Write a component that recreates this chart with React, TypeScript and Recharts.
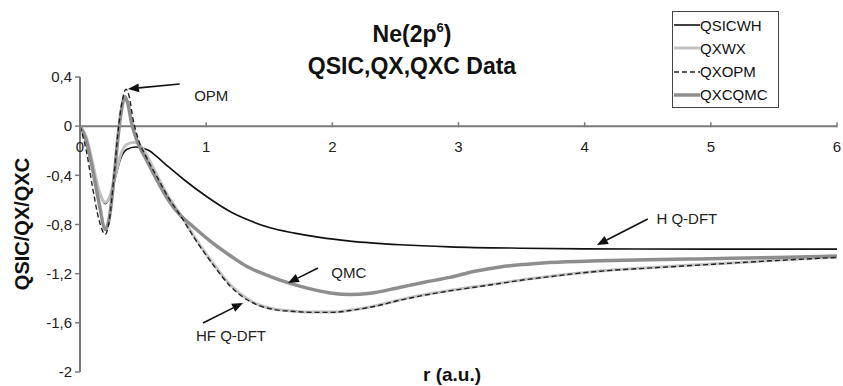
import React from "react";
import { LineChart, Line, XAxis, YAxis, ReferenceLine, ReferenceDot } from "recharts";

// r (a.u.) vs value
const qsicwh = [
  { r: 0, v: 0 }, { r: 0.05, v: -0.1 }, { r: 0.1, v: -0.31 }, { r: 0.15, v: -0.53 }, { r: 0.2, v: -0.63 },
  { r: 0.24, v: -0.57 }, { r: 0.28, v: -0.42 }, { r: 0.32, v: -0.27 }, { r: 0.37, v: -0.19 }, { r: 0.44, v: -0.17 },
  { r: 0.5, v: -0.18 }, { r: 0.55, v: -0.2 }, { r: 0.6, v: -0.24 }, { r: 0.7, v: -0.33 }, { r: 0.83, v: -0.44 },
  { r: 1.0, v: -0.57 }, { r: 1.2, v: -0.7 }, { r: 1.35, v: -0.77 }, { r: 1.5, v: -0.825 }, { r: 1.7, v: -0.87 },
  { r: 1.9, v: -0.905 }, { r: 2.14, v: -0.935 }, { r: 2.54, v: -0.965 }, { r: 2.93, v: -0.982 }, { r: 3.5, v: -0.993 },
  { r: 4.0, v: -0.998 }, { r: 5.0, v: -1.0 }, { r: 6.0, v: -1.0 },
];

const qxwx = [
  { r: 0, v: 0 }, { r: 0.05, v: -0.09 }, { r: 0.1, v: -0.3 }, { r: 0.15, v: -0.52 }, { r: 0.2, v: -0.62 },
  { r: 0.24, v: -0.56 }, { r: 0.28, v: -0.4 }, { r: 0.32, v: -0.24 }, { r: 0.37, v: -0.15 }, { r: 0.43, v: -0.13 },
  { r: 0.48, v: -0.16 }, { r: 0.52, v: -0.22 }, { r: 0.62, v: -0.42 }, { r: 0.7, v: -0.57 }, { r: 0.81, v: -0.74 },
  { r: 0.9, v: -0.89 }, { r: 1.05, v: -1.11 }, { r: 1.19, v: -1.29 }, { r: 1.32, v: -1.4 }, { r: 1.42, v: -1.455 },
  { r: 1.53, v: -1.485 }, { r: 1.7, v: -1.505 }, { r: 1.85, v: -1.512 }, { r: 2.0, v: -1.512 }, { r: 2.14, v: -1.498 },
  { r: 2.34, v: -1.462 }, { r: 2.54, v: -1.412 }, { r: 2.73, v: -1.372 }, { r: 2.93, v: -1.337 }, { r: 3.13, v: -1.307 },
  { r: 3.33, v: -1.277 }, { r: 3.52, v: -1.247 }, { r: 3.72, v: -1.222 }, { r: 3.92, v: -1.198 }, { r: 4.12, v: -1.178 },
  { r: 4.5, v: -1.152 }, { r: 4.91, v: -1.127 }, { r: 5.4, v: -1.098 }, { r: 5.86, v: -1.072 }, { r: 6.0, v: -1.065 },
];

const qxopm = [
  { r: 0, v: 0 }, { r: 0.05, v: -0.2 }, { r: 0.1, v: -0.5 }, { r: 0.15, v: -0.76 }, { r: 0.2, v: -0.88 },
  { r: 0.23, v: -0.78 }, { r: 0.27, v: -0.4 }, { r: 0.3, v: -0.06 }, { r: 0.33, v: 0.18 }, { r: 0.365, v: 0.3 },
  { r: 0.39, v: 0.24 }, { r: 0.42, v: 0.06 }, { r: 0.46, v: -0.1 }, { r: 0.52, v: -0.24 }, { r: 0.62, v: -0.43 },
  { r: 0.7, v: -0.58 }, { r: 0.81, v: -0.75 }, { r: 0.9, v: -0.9 }, { r: 1.05, v: -1.12 }, { r: 1.19, v: -1.3 },
  { r: 1.32, v: -1.41 }, { r: 1.42, v: -1.46 }, { r: 1.53, v: -1.49 }, { r: 1.7, v: -1.508 }, { r: 1.85, v: -1.515 },
  { r: 2.0, v: -1.515 }, { r: 2.14, v: -1.5 }, { r: 2.34, v: -1.465 }, { r: 2.54, v: -1.415 }, { r: 2.73, v: -1.375 },
  { r: 2.93, v: -1.34 }, { r: 3.13, v: -1.31 }, { r: 3.33, v: -1.28 }, { r: 3.52, v: -1.25 }, { r: 3.72, v: -1.225 },
  { r: 3.92, v: -1.2 }, { r: 4.12, v: -1.18 }, { r: 4.5, v: -1.155 }, { r: 4.91, v: -1.13 }, { r: 5.4, v: -1.1 },
  { r: 5.86, v: -1.075 }, { r: 6.0, v: -1.068 },
];

const qxcqmc = [
  { r: 0, v: 0 }, { r: 0.05, v: -0.12 }, { r: 0.09, v: -0.3 }, { r: 0.15, v: -0.62 }, { r: 0.2, v: -0.84 },
  { r: 0.23, v: -0.76 }, { r: 0.27, v: -0.42 }, { r: 0.3, v: -0.1 }, { r: 0.33, v: 0.14 }, { r: 0.355, v: 0.24 },
  { r: 0.38, v: 0.18 }, { r: 0.41, v: 0.02 }, { r: 0.46, v: -0.14 }, { r: 0.52, v: -0.26 }, { r: 0.6, v: -0.42 },
  { r: 0.7, v: -0.6 }, { r: 0.79, v: -0.72 }, { r: 0.9, v: -0.82 }, { r: 1.05, v: -0.95 }, { r: 1.2, v: -1.06 },
  { r: 1.32, v: -1.14 }, { r: 1.45, v: -1.2 }, { r: 1.58, v: -1.25 }, { r: 1.72, v: -1.295 }, { r: 1.85, v: -1.33 },
  { r: 2.0, v: -1.36 }, { r: 2.14, v: -1.37 }, { r: 2.3, v: -1.36 }, { r: 2.54, v: -1.31 }, { r: 2.73, v: -1.27 },
  { r: 2.93, v: -1.23 }, { r: 3.13, v: -1.18 }, { r: 3.33, v: -1.145 }, { r: 3.52, v: -1.125 }, { r: 3.72, v: -1.11 },
  { r: 4.12, v: -1.095 }, { r: 4.5, v: -1.087 }, { r: 4.91, v: -1.08 }, { r: 5.4, v: -1.07 }, { r: 5.86, v: -1.06 },
  { r: 6.0, v: -1.057 },
];

const xTicks = [0, 1, 2, 3, 4, 5, 6];
const yTicks = [-2, -1.6, -1.2, -0.8, -0.4, 0, 0.4];

const annotations = [
  { label: "OPM", from: [0.79, 0.343], to: [0.38, 0.303], text: [1.04, 0.245] },
  { label: "QMC", from: [1.886, -1.154], to: [1.648, -1.276], text: [2.13, -1.19] },
  { label: "HF Q-DFT", from: [0.975, -1.601], to: [1.292, -1.438], text: [1.197, -1.707] },
  { label: "H Q-DFT", from: [4.5, -0.755], to: [4.097, -0.967], text: [4.81, -0.755] },
];

const W = 843;
const H = 386;
const PLOT_LEFT = 80;
const PLOT_RIGHT = 837;
const PLOT_TOP = 77;
const PLOT_BOTTOM = 372;
const Y_MIN = -2;
const Y_MAX = 0.4;
const ZERO_Y = PLOT_TOP + ((PLOT_BOTTOM - PLOT_TOP) * Y_MAX) / (Y_MAX - Y_MIN);
const AXIS = "#7a7a7a";
const FONT = "'Liberation Sans', Arial, sans-serif";

const fmt = (v: number) => String(v).replace(".", ",");

function XTick(props: any) {
  const { x, payload } = props;
  return (
    <g>
      <line x1={x} x2={x} y1={ZERO_Y - 4} y2={ZERO_Y + 1} stroke={AXIS} strokeWidth={1.5} />
      <text x={x} y={ZERO_Y + 26} textAnchor="middle" fontSize={15} fill="#222" fontFamily={FONT}>
        {payload.value}
      </text>
    </g>
  );
}

function Arrow(props: any) {
  const { x1, y1, x2, y2 } = props;
  if ([x1, y1, x2, y2].some((n) => typeof n !== "number")) return null;
  const a = Math.atan2(y2 - y1, x2 - x1);
  const len = 11;
  const hw = 4.5;
  const bx = x2 - len * Math.cos(a);
  const by = y2 - len * Math.sin(a);
  const px = -Math.sin(a) * hw;
  const py = Math.cos(a) * hw;
  return (
    <g>
      <line x1={x1} y1={y1} x2={bx} y2={by} stroke="#111" strokeWidth={1.6} />
      <polygon points={`${x2},${y2} ${bx + px},${by + py} ${bx - px},${by - py}`} fill="#111" />
    </g>
  );
}

const legendItems = [
  { name: "QSICWH", color: "#111", width: 1.6, dash: undefined },
  { name: "QXWX", color: "#c2c2c2", width: 3, dash: undefined },
  { name: "QXOPM", color: "#222", width: 1.4, dash: "5 3" },
  { name: "QXCQMC", color: "#8e8e8e", width: 3.5, dash: undefined },
];

export default function App() {
  return (
    <div style={{ position: "fixed", left: 0, top: 0, width: W, height: H, overflow: "hidden", background: "#fff", fontFamily: FONT }}>
      <LineChart width={W} height={H} margin={{ top: PLOT_TOP, right: W - PLOT_RIGHT, left: 0, bottom: 0 }}>
        <XAxis
          dataKey="r"
          type="number"
          domain={[0, 6]}
          ticks={xTicks}
          interval={0}
          allowDataOverflow
          axisLine={false}
          tickLine={false}
          height={H - PLOT_BOTTOM}
          tick={<XTick />}
        />
        <YAxis
          type="number"
          domain={[Y_MIN, Y_MAX]}
          ticks={yTicks}
          interval={0}
          width={PLOT_LEFT}
          allowDataOverflow
          axisLine={{ stroke: AXIS, strokeWidth: 2 }}
          tickLine={{ stroke: AXIS, strokeWidth: 1.5 }}
          tickSize={5}
          tickMargin={3}
          tick={{ fontSize: 15, fill: "#222", fontFamily: FONT }}
          tickFormatter={fmt}
        />
        <ReferenceLine y={0} stroke={AXIS} strokeWidth={2} />
        <Line data={qsicwh} dataKey="v" type="monotone" stroke="#111" strokeWidth={1.6} dot={false} isAnimationActive={false} />
        <Line data={qxwx} dataKey="v" type="monotone" stroke="#c2c2c2" strokeWidth={3} dot={false} isAnimationActive={false} />
        <Line data={qxcqmc} dataKey="v" type="monotone" stroke="#8e8e8e" strokeWidth={3.5} dot={false} isAnimationActive={false} />
        <Line data={qxopm} dataKey="v" type="monotone" stroke="#222" strokeWidth={1.4} strokeDasharray="5 3" dot={false} isAnimationActive={false} />
        {annotations.map((a) => (
          <ReferenceLine
            key={"a" + a.label}
            segment={[{ x: a.from[0], y: a.from[1] }, { x: a.to[0], y: a.to[1] }]}
            shape={(p: any) => <Arrow {...p} />}
          />
        ))}
        {annotations.map((a) => (
          <ReferenceDot
            key={"t" + a.label}
            x={a.text[0]}
            y={a.text[1]}
            r={0}
            fill="none"
            stroke="none"
            label={{ value: a.label, position: "center", fontSize: 15, fill: "#222", fontFamily: FONT }}
          />
        ))}
      </LineChart>

      <div style={{ position: "absolute", left: 262, top: 20, width: 300, textAlign: "center", fontSize: 23, fontWeight: "bold", lineHeight: "28px", color: "#111" }}>
        <div>
          Ne(2p<span style={{ fontSize: 13, position: "relative", top: -10 }}>6</span>)
        </div>
        <div>QSIC,QX,QXC Data</div>
      </div>

      <div style={{ position: "absolute", left: 392, top: 364, width: 120, textAlign: "center", fontSize: 19, fontWeight: "bold", lineHeight: "22px", color: "#111" }}>
        r (a.u.)
      </div>

      <div style={{ position: "absolute", left: 22 - 80, top: 224 - 12, width: 160, height: 24, lineHeight: "24px", textAlign: "center", fontSize: 20, fontWeight: "bold", color: "#111", transform: "rotate(-90deg)" }}>
        QSIC/QX/QXC
      </div>

      <div style={{ position: "absolute", left: 672, top: 11, width: 107, height: 97, boxSizing: "border-box", border: "1.5px solid #444", background: "#fff" }}>
        {legendItems.map((it, i) => (
          <div key={it.name} style={{ position: "absolute", left: 0, top: 2 + i * 23.3, height: 22, display: "flex", alignItems: "center" }}>
            <svg width={27} height={22} style={{ display: "block" }}>
              <line x1={1} x2={27} y1={11} y2={11} stroke={it.color} strokeWidth={it.width} strokeDasharray={it.dash} />
            </svg>
            <span style={{ fontSize: 15, color: "#111", marginLeft: 0 }}>{it.name}</span>
          </div>
        ))}
      </div>
    </div>
  );
}
